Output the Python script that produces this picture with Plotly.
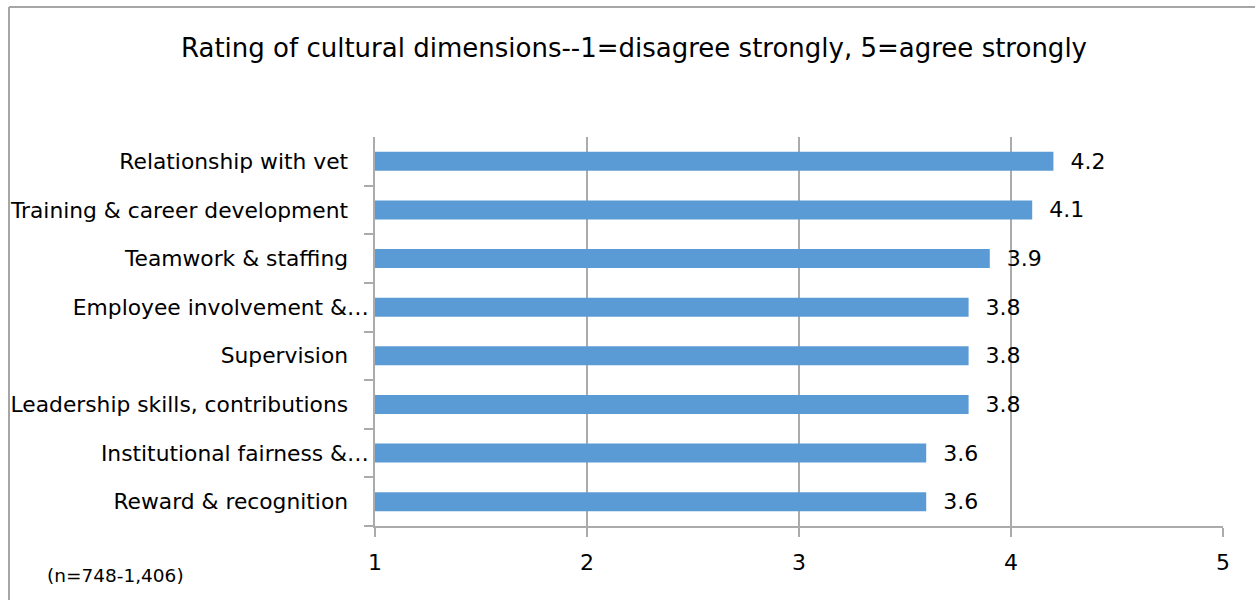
import plotly.graph_objects as go

categories = [
    "Relationship with vet",
    "Training & career development",
    "Teamwork & staffing",
    "Employee involvement &…",
    "Supervision",
    "Leadership skills, contributions",
    "Institutional fairness &…",
    "Reward & recognition",
]
values = [4.2, 4.1, 3.9, 3.8, 3.8, 3.8, 3.6, 3.6]
x_ticks = [1, 2, 3, 4, 5]
title_text = "Rating of cultural dimensions--1=disagree strongly, 5=agree strongly"
note_text = "(n=748-1,406)"

FONT = "DejaVu Sans"
GRAY = "#ababab"

# labels that are not truncated carry a trailing gap like in the original
tick_text = [c if c.endswith("…") else c + "\u00a0\u00a0\u00a0" for c in categories]

W, H = 1255, 600
L, R, T, B = 375, 32, 137, 74
pw, ph = W - L - R, H - T - B

def px_x(px):
    return (px - L) / pw

def px_y(py):
    return (H - B - py) / ph

fig = go.Figure()
fig.add_trace(go.Bar(
    y=categories,
    x=values,
    orientation="h",
    marker=dict(color="#5b9bd5", line=dict(width=0)),
    text=values,
    texttemplate="\u00a0\u00a0%{x:.1f}",
    textposition="outside",
    constraintext="none",
    cliponaxis=False,
    textfont=dict(family=FONT, size=22, color="#000000"),
    outsidetextfont=dict(family=FONT, size=22, color="#000000"),
))

fig.update_layout(
    width=W, height=H,
    margin=dict(l=L, r=R, t=T, b=B, autoexpand=False),
    paper_bgcolor="white",
    plot_bgcolor="white",
    bargap=0.61,
    showlegend=False,
    font=dict(family=FONT, color="#000000"),
    title=dict(
        text=title_text,
        x=634 / W, xref="container", xanchor="center",
        y=1 - 48 / H, yref="container", yanchor="middle",
        font=dict(family=FONT, size=26, color="#000000"),
    ),
    xaxis=dict(
        range=[1, 5],
        tickvals=x_ticks,
        ticktext=[str(v) for v in x_ticks],
        showgrid=True, gridcolor=GRAY, gridwidth=1.5,
        showline=True, linecolor=GRAY, linewidth=1.5,
        ticks="outside", ticklen=9, tickcolor=GRAY, tickwidth=1.5,
        tickfont=dict(family=FONT, size=22, color="#000000"),
        ticklabelstandoff=7,
        zeroline=False,
    ),
    yaxis=dict(
        categoryorder="array",
        categoryarray=categories[::-1],
        tickmode="array",
        tickvals=categories,
        ticktext=tick_text,
        showgrid=False,
        showline=True, linecolor=GRAY, linewidth=1.5,
        ticks="outside", ticklen=9, tickcolor=GRAY, tickwidth=1.5,
        tickson="boundaries",
        tickfont=dict(family=FONT, size=21.8, color="#000000"),
        ticklabelstandoff=0,
    ),
    annotations=[dict(
        text=note_text, xref="paper", yref="paper",
        x=px_x(45), y=px_y(575), xanchor="left", yanchor="middle",
        showarrow=False, font=dict(family=FONT, size=18.5, color="#000000"),
    )],
    shapes=[
        dict(type="line", xref="paper", yref="paper",
             x0=px_x(9), x1=px_x(1265), y0=px_y(7), y1=px_y(7),
             line=dict(color="#a6a6a6", width=2)),
        dict(type="line", xref="paper", yref="paper",
             x0=px_x(9), x1=px_x(9), y0=px_y(7), y1=px_y(610),
             line=dict(color="#a6a6a6", width=2)),
    ],
)

fig.write_html("out.html")
